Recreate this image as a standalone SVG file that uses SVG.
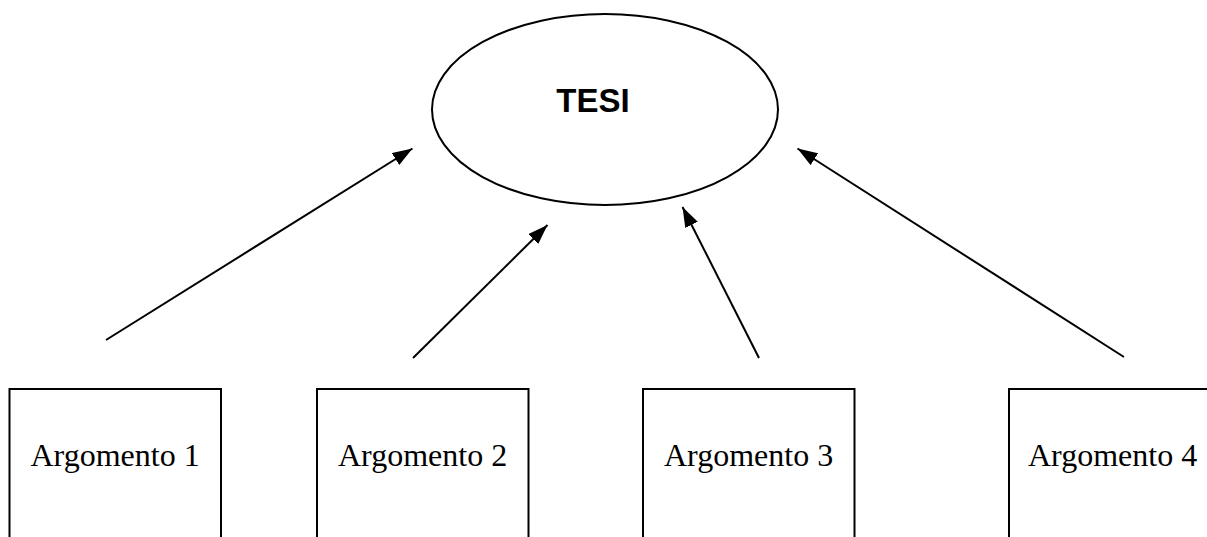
<svg xmlns="http://www.w3.org/2000/svg" width="1207" height="537" viewBox="0 0 1207 537">
  <style>
    .shape { fill: #ffffff; stroke: #000000; stroke-width: 2; }
    .link { stroke: #000000; stroke-width: 2; fill: none; marker-end: url(#head); }
    .arg { font-family: "Liberation Serif", "Times New Roman", serif; font-size: 32px; fill: #000000; }
    .thesis { font-family: "Liberation Sans", Arial, sans-serif; font-size: 33px; font-weight: bold; fill: #000000; }
  </style>
  <defs>
    <marker id="head" viewBox="0 0 20 14" refX="20" refY="7" markerWidth="20" markerHeight="14" markerUnits="userSpaceOnUse" orient="auto">
      <path d="M0,0 L20,7 L0,14 Z" fill="#000000"/>
    </marker>
  </defs>
  <rect width="1207" height="537" fill="#ffffff"/>

  <g id="tesi">
    <ellipse class="shape" cx="605" cy="109.5" rx="173" ry="95.5"/>
    <text class="thesis" x="593" y="112" text-anchor="middle">TESI</text>
  </g>

  <g id="argomento-1">
    <rect class="shape" x="9.5" y="389" width="211.5" height="170"/>
    <text class="arg" x="30.5" y="466">Argomento 1</text>
  </g>
  <g id="argomento-2">
    <rect class="shape" x="317" y="389" width="211.5" height="170"/>
    <text class="arg" x="338" y="466">Argomento 2</text>
  </g>
  <g id="argomento-3">
    <rect class="shape" x="643" y="389" width="211.5" height="170"/>
    <text class="arg" x="664" y="466">Argomento 3</text>
  </g>
  <g id="argomento-4">
    <rect class="shape" x="1009" y="389" width="211.5" height="170"/>
    <text class="arg" x="1028" y="466">Argomento 4</text>
  </g>

  <g id="connectors">
    <line class="link" x1="106" y1="340" x2="412.5" y2="148.5"/>
    <line class="link" x1="413" y1="358" x2="547.5" y2="225"/>
    <line class="link" x1="759" y1="358" x2="682.5" y2="207"/>
    <line class="link" x1="1124" y1="357" x2="797.5" y2="148.5"/>
  </g>
</svg>
